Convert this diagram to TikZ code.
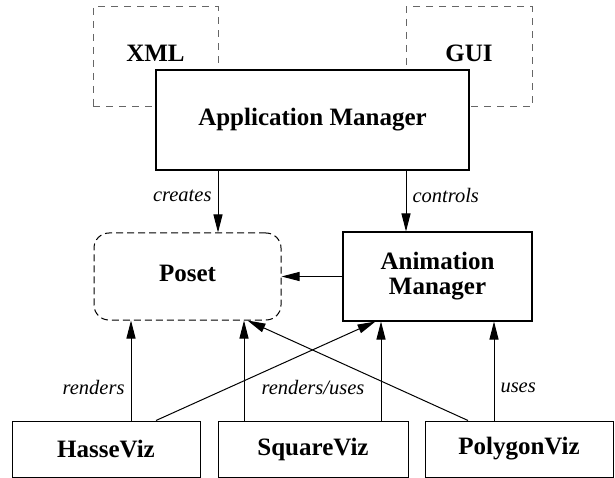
\documentclass[tikz,border=0pt]{standalone}
\usepackage{fontspec}
\setmainfont{Liberation Serif}
\usetikzlibrary{arrows.meta}

\begin{document}
\begin{tikzpicture}[x=1pt,y=-1pt,
		box/.style={draw,line width=1pt,fill=white,inner sep=0pt,align=center,font=\fontsize{25}{25}\selectfont\bfseries},
		mgr/.style={box,line width=2pt},
		ext/.style={box,draw=black!60,dash pattern=on 7pt off 6pt,text depth=7pt},
		arr/.style={line width=1pt,-{Triangle[length=18pt,width=9pt]}},
		lbl/.style={inner sep=6pt,font=\fontsize{20.5}{22}\selectfont\itshape}]
				\useasboundingbox (0,0) rectangle (615,478);
				\node[ext,minimum width=125pt,minimum height=100pt] (xml) at (155.5,57) {XML};
				\node[ext,minimum width=126pt,minimum height=100pt] (gui) at (469,57) {GUI};
				\node[mgr,minimum width=313pt,minimum height=100pt] (app) at (312.5,120) {Application Manager};
				\node[box,dash pattern=on 7pt off 4pt,rounded corners=15pt,text depth=7pt,minimum width=187pt,minimum height=87pt] (poset) at (187.5,276.5) {Poset};
				\node[mgr,minimum width=189pt,minimum height=88pt] (anim) at (437.5,276.5) {Animation\\Manager};
				\node[box,minimum width=188pt,minimum height=56pt] (hasse) at (106,449) {HasseViz};
				\node[box,minimum width=190pt,minimum height=56pt] (square) at (313,449) {SquareViz};
				\node[box,minimum width=188pt,minimum height=56pt] (polygon) at (519,449) {PolygonViz};
				\draw[arr] ([xshift=-94.5pt]app.south) -- ([xshift=-94.5pt]app.south |- poset.north) node[lbl,pos=0.4,left] {creates};
				\draw[arr] ([xshift=93.5pt]app.south) -- ([xshift=93.5pt]app.south |- anim.north) node[lbl,pos=0.4,right] {controls};
				\draw[arr] (anim.west) -- (poset.east);
				\draw[arr] ([xshift=25pt]hasse.north) -- ([xshift=25pt]hasse.north |- poset.south) node[lbl,pos=0.33,left] {renders};
				\draw[arr] ([xshift=50pt]hasse.north) -- ([xshift=-62pt]anim.south);
				\draw[arr] ([xshift=-69pt]square.north) -- ([xshift=-69pt]square.north |- poset.south);
				\draw[arr] ([xshift=68pt]square.north) -- ([xshift=68pt]square.north |- anim.south);
				\draw[arr] ([xshift=-51pt]polygon.north) -- ([xshift=60pt]poset.south);
				\draw[arr] ([xshift=-25pt]polygon.north) -- ([xshift=-25pt]polygon.north |- anim.south) node[lbl,pos=0.33,right] {uses};
				\node[lbl] (renduse) at (313,388) {renders/uses};
			\end{tikzpicture}
\end{document}
